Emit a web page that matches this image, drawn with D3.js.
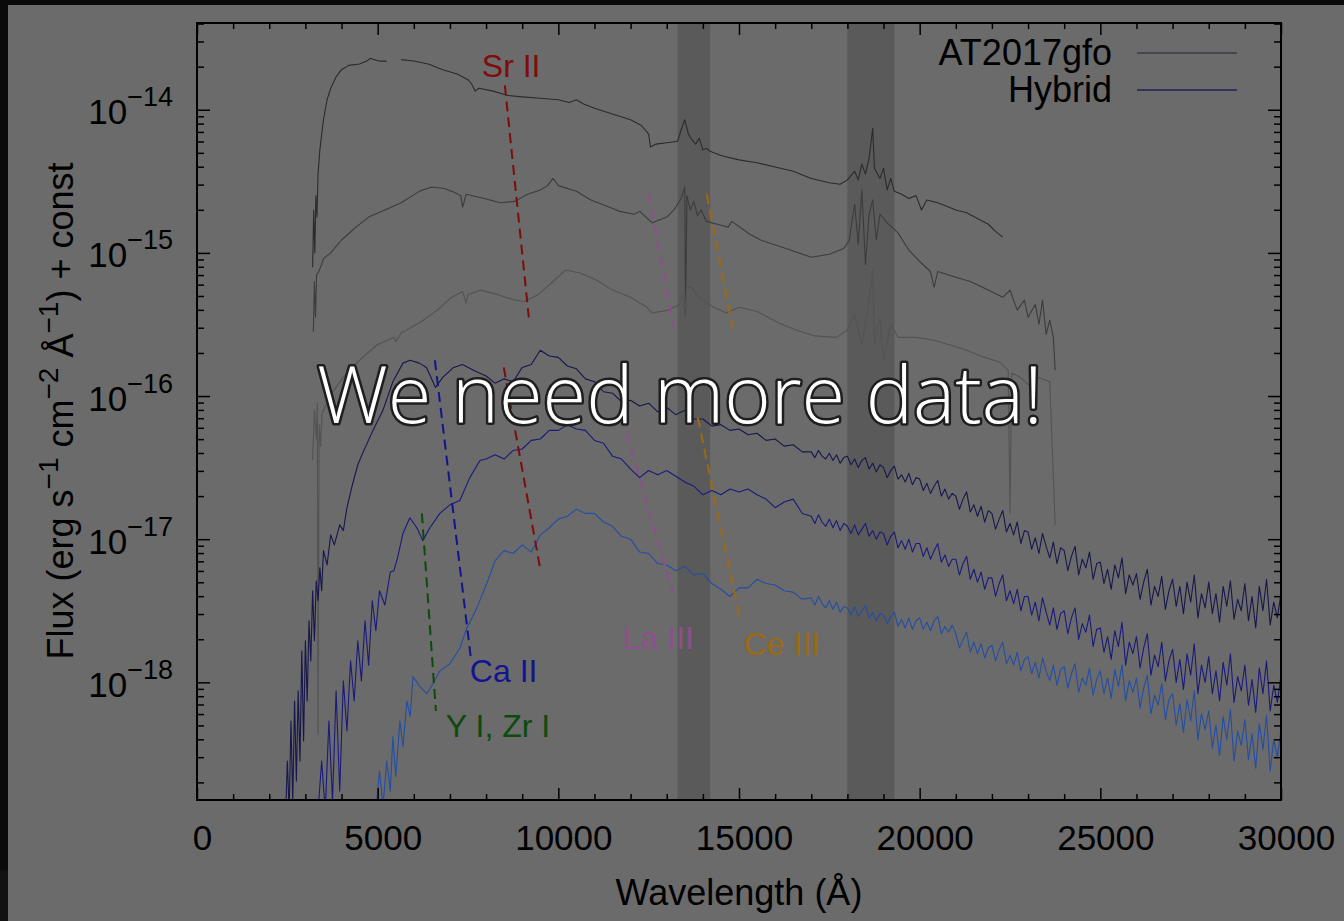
<!DOCTYPE html>
<html>
<head>
<meta charset="utf-8">
<script src="https://cdn.jsdelivr.net/npm/d3@7"></script>
<style>
body { margin: 0; background: #0a0a0a; }
svg { display: block; }
</style>
</head>
<body>
<svg id="chart"></svg>
<script>
// wavelength (A), log10 flux
var obsSpec1 = [[3200,-15.10],[3230,-14.70],[3260,-15.00],[3290,-14.60],[3320,-14.75],[3350,-14.45],[3400,-14.28],[3500,-14.07],[3600,-13.93],[3700,-13.85],[3850,-13.77],[4000,-13.72],[4200,-13.69],[4500,-13.68],[4700,-13.66],[4800,-13.64],[4900,-13.65],[5050,-13.66],[5250,-13.66],[5300,null],[5650,-13.65],[6000,-13.66],[6400,-13.68],[6800,-13.72],[7200,-13.75],[7500,-13.79],[7600,-13.82],[7700,-13.87],[7800,-13.85],[8200,-13.87],[8600,-13.90],[9000,-13.91],[9500,-13.92],[10000,-13.93],[10300,-13.95],[10500,-13.93],[10700,-13.96],[11000,-13.99],[11500,-14.03],[12000,-14.07],[12300,-14.11],[12500,-14.17],[12550,-14.26],[12700,-14.24],[13000,-14.23],[13300,-14.22],[13400,-14.14],[13500,-14.07],[13600,-14.17],[13700,-14.21],[13800,-14.24],[13900,-14.20],[14000,-14.28],[14100,-14.27],[14200,-14.29],[14500,-14.32],[15000,-14.35],[15500,-14.37],[16000,-14.40],[16500,-14.43],[17000,-14.48],[17500,-14.51],[17800,-14.52],[18000,-14.49],[18200,-14.43],[18300,-14.49],[18400,-14.38],[18500,-14.45],[18600,-14.34],[18700,-14.13],[18750,-14.41],[18900,-14.48],[19000,-14.41],[19100,-14.56],[19200,-14.48],[19300,-14.57],[19500,-14.59],[19700,-14.62],[19900,-14.60],[20050,-14.70],[20200,-14.63],[20500,-14.65],[20800,-14.68],[21000,-14.70],[21300,-14.72],[21600,-14.76],[21900,-14.80],[22100,-14.85],[22300,-14.89]];

var obsSpec2 = [[3220,-15.55],[3250,-15.20],[3280,-15.45],[3310,-15.15],[3350,-15.14],[3450,-15.08],[3500,-15.04],[3700,-15.00],[4000,-14.91],[4400,-14.82],[4750,-14.75],[5200,-14.70],[5650,-14.65],[6150,-14.57],[6500,-14.54],[6850,-14.55],[7150,-14.58],[7300,-14.60],[7350,-14.68],[7450,-14.59],[7950,-14.62],[8400,-14.65],[8800,-14.64],[9150,-14.59],[9500,-14.56],[9700,-14.53],[9850,-14.48],[10000,-14.53],[10500,-14.57],[10900,-14.63],[11400,-14.68],[11700,-14.71],[12100,-14.73],[12250,-14.71],[12600,-14.79],[13000,-14.75],[13200,-14.70],[13400,-14.62],[13500,-14.54],[13520,-15.43],[13560,-14.60],[13650,-14.70],[13750,-14.64],[13850,-14.74],[13950,-14.70],[14100,-14.78],[14400,-14.80],[14700,-14.82],[14800,-14.78],[15300,-14.87],[15600,-14.91],[16300,-14.97],[17000,-15.03],[17500,-15.01],[17900,-14.97],[18050,-14.91],[18200,-14.66],[18300,-14.94],[18400,-14.56],[18500,-15.08],[18600,-14.73],[18700,-14.63],[18800,-14.91],[18900,-14.73],[19100,-14.79],[19400,-14.86],[19700,-14.98],[20000,-15.06],[20300,-15.13],[20400,-15.24],[20500,-15.13],[21000,-15.17],[21400,-15.20],[21900,-15.26],[22300,-15.31],[22500,-15.26],[22700,-15.40],[22900,-15.33],[23000,-15.45],[23200,-15.36],[23300,-15.50],[23400,-15.33],[23500,-15.57],[23600,-15.47],[23700,-15.59],[23750,-15.82]];

var obsSpec3 = [[3200,-16.45],[3250,-16.10],[3300,-16.30],[3330,-16.05],[3350,-18.36],[3380,-16.20],[3420,-16.35],[3460,-16.12],[3500,-16.10],[3700,-15.99],[3900,-15.92],[4200,-15.82],[4500,-15.75],[5000,-15.64],[5450,-15.59],[5500,-15.62],[5650,-15.56],[6150,-15.49],[6600,-15.41],[7050,-15.31],[7350,-15.27],[7450,-15.35],[7500,-15.29],[7850,-15.26],[8300,-15.29],[8800,-15.33],[9050,-15.34],[9450,-15.29],[9850,-15.20],[10200,-15.12],[10600,-15.14],[11050,-15.19],[11500,-15.26],[12000,-15.31],[12450,-15.38],[12600,-15.42],[13050,-15.40],[13350,-15.36],[13450,-15.29],[13500,-15.45],[13550,-15.24],[13700,-15.24],[13850,-15.30],[14000,-15.33],[14300,-15.38],[14650,-15.42],[15000,-15.38],[15500,-15.41],[16100,-15.49],[16600,-15.54],[17100,-15.58],[17700,-15.59],[18000,-15.54],[18200,-15.43],[18400,-15.64],[18600,-15.33],[18700,-15.12],[18750,-15.64],[18900,-15.45],[19000,-15.75],[19200,-15.50],[19400,-15.59],[19900,-15.59],[20400,-15.61],[20800,-15.64],[21300,-15.68],[21800,-15.73],[22200,-15.76],[22450,-15.82],[22500,-16.82],[22550,-15.84],[22800,-15.87],[23000,-15.92],[23300,-15.87],[23600,-15.90],[23750,-16.90]];

var hybridSpec1 = [[2450,-18.95],[2500,-18.55],[2550,-18.90],[2600,-18.27],[2650,-18.83],[2700,-18.13],[2750,-18.69],[2800,-18.06],[2850,-18.55],[2900,-17.78],[2950,-18.41],[3000,-17.71],[3050,-18.13],[3100,-17.57],[3150,-17.85],[3200,-17.36],[3250,-17.71],[3300,-17.29],[3350,-17.43],[3400,-17.20],[3450,-17.36],[3500,-17.08],[3600,-17.18],[3700,-16.97],[3800,-17.04],[3950,-16.90],[4050,-16.94],[4150,-16.78],[4300,-16.62],[4450,-16.48],[4600,-16.39],[4870,-16.24],[5145,-16.10],[5420,-15.90],[5700,-15.77],[5900,-15.75],[6150,-15.77],[6350,-15.80],[6600,-15.94],[6800,-15.87],[7100,-15.80],[7350,-15.78],[7650,-15.82],
  [8000,-15.86],[8250,-15.91],[8500,-15.88],[8750,-15.90],[9000,-15.80],[9250,-15.78],[9500,-15.68],[9750,-15.72],[10000,-15.73],[10250,-15.79],[10500,-15.81],[10750,-15.88],[11000,-15.90],[11250,-15.97],[11500,-15.98],[11750,-16.04],[12000,-16.03],[12250,-16.07],[12500,-16.05],[12750,-16.11],[13000,-16.08],[13250,-16.13],[13500,-16.10],[13750,-16.16],[14000,-16.16],[14250,-16.21],[14500,-16.20],[14750,-16.24],[15000,-16.23],[15250,-16.27],[15500,-16.26],[15750,-16.31],[16000,-16.30],[16250,-16.35],[16500,-16.34],[16750,-16.39],
  [17000,-16.39],[17100,-16.43],[17200,-16.38],[17300,-16.42],[17400,-16.44],[17500,-16.40],[17600,-16.45],[17700,-16.41],[17800,-16.47],[17900,-16.43],
  [18000,-16.42],[18100,-16.48],[18200,-16.44],[18300,-16.50],[18400,-16.45],[18500,-16.43],[18600,-16.51],[18700,-16.47],[18800,-16.53],[18900,-16.48],
  [19000,-16.50],[19100,-16.57],[19200,-16.52],[19300,-16.49],[19400,-16.58],[19500,-16.55],[19600,-16.60],[19700,-16.54],[19800,-16.62],[19900,-16.57],
  [20000,-16.58],[20100,-16.66],[20200,-16.61],[20300,-16.68],[20400,-16.63],[20500,-16.59],[20600,-16.70],[20700,-16.65],[20800,-16.72],[20900,-16.68],
  [21000,-16.70],[21100,-16.79],[21200,-16.72],[21300,-16.67],[21400,-16.81],[21500,-16.76],[21600,-16.84],[21700,-16.77],[21800,-16.88],[21900,-16.80],
  [22000,-16.82],[22100,-16.93],[22200,-16.86],[22300,-16.80],[22400,-16.95],[22500,-16.89],[22600,-16.97],[22700,-16.88],[22800,-17.03],[22900,-16.94],
  [23000,-16.95],[23100,-17.07],[23200,-16.99],[23300,-17.10],[23400,-16.96],[23500,-17.05],[23600,-17.13],[23700,-17.02],[23800,-17.17],[23900,-17.06],
  [24000,-17.08],[24100,-17.22],[24200,-17.12],[24300,-17.05],[24400,-17.25],[24500,-17.14],[24600,-17.20],[24700,-17.09],[24800,-17.28],[24900,-17.17],
  [25000,-17.16],[25100,-17.31],[25200,-17.21],[25300,-17.35],[25400,-17.18],[25500,-17.27],[25600,-17.13],[25700,-17.38],[25800,-17.25],[25900,-17.32],
  [26000,-17.24],[26100,-17.42],[26200,-17.30],[26300,-17.21],[26400,-17.46],[26500,-17.33],[26600,-17.40],[26700,-17.26],[26800,-17.49],[26900,-17.36],
  [27000,-17.28],[27100,-17.47],[27200,-17.33],[27300,-17.52],[27400,-17.30],[27500,-17.44],[27600,-17.25],[27700,-17.55],[27800,-17.38],[27900,-17.48],
  [28000,-17.30],[28100,-17.52],[28200,-17.38],[28300,-17.58],[28400,-17.33],[28500,-17.47],[28600,-17.29],[28700,-17.56],[28800,-17.42],[28900,-17.50],
  [29000,-17.31],[29100,-17.57],[29200,-17.40],[29300,-17.62],[29400,-17.33],[29500,-17.50],[29600,-17.28],[29700,-17.60],[29800,-17.44],[29900,-17.55],[30000,-17.38]];

var hybridSpec2 = [[3350,-18.90],[3450,-18.55],[3550,-18.90],[3650,-18.27],[3750,-18.83],[3850,-18.06],[3950,-18.76],[4050,-17.99],[4150,-18.34],[4250,-17.85],[4350,-18.13],[4450,-17.71],[4550,-17.99],[4650,-17.57],[4750,-17.88],[4850,-17.43],[4950,-17.64],[5050,-17.36],[5200,-17.46],[5350,-17.23],[5450,-17.22],[5550,-17.13],[5700,-16.96],[5890,-16.85],[6085,-16.92],[6250,-17.01],[6445,-16.92],[6720,-16.82],[7000,-16.76],[7275,-16.73],[7550,-16.57],[7830,-16.45],
  [8000,-16.44],[8250,-16.41],[8500,-16.44],[8750,-16.38],[9000,-16.37],[9250,-16.31],[9500,-16.30],[9750,-16.24],[10000,-16.24],[10250,-16.20],[10500,-16.23],[10750,-16.24],[11000,-16.31],[11250,-16.33],[11500,-16.42],[11750,-16.44],[12000,-16.51],[12250,-16.57],[12500,-16.52],[12750,-16.55],[13000,-16.52],[13250,-16.56],[13500,-16.60],[13750,-16.63],[14000,-16.69],[14250,-16.66],[14500,-16.69],[14750,-16.65],[15000,-16.67],[15250,-16.65],[15500,-16.69],[15750,-16.72],[16000,-16.78],[16250,-16.74],[16500,-16.72],[16750,-16.82],
  [17000,-16.84],[17100,-16.89],[17200,-16.83],[17300,-16.88],[17400,-16.91],[17500,-16.86],[17600,-16.92],[17700,-16.87],[17800,-16.94],[17900,-16.89],
  [18000,-16.91],[18100,-16.96],[18200,-16.90],[18300,-16.97],[18400,-16.93],[18500,-16.89],[18600,-16.98],[18700,-16.94],[18800,-17.00],[18900,-16.95],
  [19000,-16.96],[19100,-17.04],[19200,-16.98],[19300,-16.95],[19400,-17.06],[19500,-17.01],[19600,-17.07],[19700,-17.00],[19800,-17.09],[19900,-17.03],
  [20000,-17.03],[20100,-17.12],[20200,-17.06],[20300,-17.14],[20400,-17.08],[20500,-17.03],[20600,-17.16],[20700,-17.11],[20800,-17.19],[20900,-17.14],
  [21000,-17.14],[21100,-17.25],[21200,-17.17],[21300,-17.12],[21400,-17.28],[21500,-17.21],[21600,-17.30],[21700,-17.23],[21800,-17.35],[21900,-17.27],
  [22000,-17.27],[22100,-17.40],[22200,-17.31],[22300,-17.25],[22400,-17.43],[22500,-17.36],[22600,-17.45],[22700,-17.35],[22800,-17.50],[22900,-17.40],
  [23000,-17.40],[23100,-17.53],[23200,-17.44],[23300,-17.57],[23400,-17.41],[23500,-17.51],[23600,-17.60],[23700,-17.48],[23800,-17.63],[23900,-17.52],
  [24000,-17.50],[24100,-17.66],[24200,-17.55],[24300,-17.48],[24400,-17.70],[24500,-17.59],[24600,-17.65],[24700,-17.53],[24800,-17.75],[24900,-17.63],
  [25000,-17.62],[25100,-17.79],[25200,-17.68],[25300,-17.84],[25400,-17.64],[25500,-17.75],[25600,-17.58],[25700,-17.88],[25800,-17.72],[25900,-17.80],
  [26000,-17.68],[26100,-17.90],[26200,-17.76],[26300,-17.66],[26400,-17.95],[26500,-17.81],[26600,-17.89],[26700,-17.72],[26800,-17.99],[26900,-17.85],
  [27000,-17.77],[27100,-18.00],[27200,-17.84],[27300,-18.05],[27400,-17.80],[27500,-17.95],[27600,-17.73],[27700,-18.08],[27800,-17.88],[27900,-18.00],
  [28000,-17.82],[28100,-18.08],[28200,-17.92],[28300,-18.13],[28400,-17.86],[28500,-18.02],[28600,-17.80],[28700,-18.14],[28800,-17.96],[28900,-18.06],
  [29000,-17.88],[29100,-18.16],[29200,-17.98],[29300,-18.21],[29400,-17.90],[29500,-18.08],[29600,-17.85],[29700,-18.20],[29800,-18.02],[29900,-18.14],[30000,-17.95]];

var hybridSpec3 = [[4950,-18.90],[5050,-18.62],[5150,-18.86],[5250,-18.55],[5350,-18.76],[5420,-18.38],[5500,-18.66],[5615,-18.27],[5700,-18.45],[5810,-18.13],[5900,-18.24],[5975,-17.96],[6170,-18.03],[6360,-18.08],[6530,-18.01],[6720,-17.92],[7000,-17.87],[7275,-17.76],[7470,-17.62],[7745,-17.48],[8020,-17.31],
  [8250,-17.15],[8500,-17.08],[8750,-17.10],[9000,-17.04],[9250,-17.09],[9500,-16.97],[9750,-16.92],[10000,-16.86],[10250,-16.84],[10500,-16.79],[10750,-16.82],[11000,-16.82],[11250,-16.88],[11500,-16.91],[11750,-16.98],[12000,-17.00],[12250,-17.09],[12500,-17.10],[12750,-17.17],[13000,-17.18],[13250,-17.22],[13500,-17.19],[13750,-17.25],[14000,-17.24],[14250,-17.31],[14500,-17.35],[14750,-17.40],[15000,-17.34],[15250,-17.34],[15500,-17.28],[15750,-17.31],[16000,-17.32],[16250,-17.36],[16500,-17.37],[16750,-17.42],
  [17000,-17.41],[17100,-17.46],[17200,-17.40],[17300,-17.45],[17400,-17.48],[17500,-17.43],[17600,-17.49],[17700,-17.44],[17800,-17.51],[17900,-17.47],
  [18000,-17.48],[18100,-17.53],[18200,-17.47],[18300,-17.54],[18400,-17.50],[18500,-17.46],[18600,-17.55],[18700,-17.51],[18800,-17.57],[18900,-17.52],
  [19000,-17.53],[19100,-17.59],[19200,-17.54],[19300,-17.51],[19400,-17.61],[19500,-17.56],[19600,-17.62],[19700,-17.55],[19800,-17.63],[19900,-17.57],
  [20000,-17.55],[20100,-17.63],[20200,-17.58],[20300,-17.64],[20400,-17.57],[20500,-17.54],[20600,-17.66],[20700,-17.61],[20800,-17.65],[20900,-17.60],
  [21000,-17.66],[21100,-17.76],[21200,-17.70],[21300,-17.65],[21400,-17.79],[21500,-17.72],[21600,-17.80],[21700,-17.73],[21800,-17.83],[21900,-17.76],
  [22000,-17.74],[22100,-17.85],[22200,-17.77],[22300,-17.72],[22400,-17.87],[22500,-17.81],[22600,-17.88],[22700,-17.79],[22800,-17.92],[22900,-17.84],
  [23000,-17.82],[23100,-17.94],[23200,-17.86],[23300,-17.97],[23400,-17.83],[23500,-17.92],[23600,-17.99],[23700,-17.88],[23800,-18.02],[23900,-17.91],
  [24000,-17.89],[24100,-18.04],[24200,-17.94],[24300,-17.87],[24400,-18.07],[24500,-17.97],[24600,-18.02],[24700,-17.90],[24800,-18.09],[24900,-17.98],
  [25000,-17.92],[25100,-18.08],[25200,-17.97],[25300,-18.11],[25400,-17.91],[25500,-18.03],[25600,-17.88],[25700,-18.13],[25800,-17.99],[25900,-18.07],
  [26000,-17.97],[26100,-18.18],[26200,-18.04],[26300,-17.95],[26400,-18.22],[26500,-18.09],[26600,-18.16],[26700,-18.01],[26800,-18.26],[26900,-18.12],
  [27000,-18.08],[27100,-18.30],[27200,-18.15],[27300,-18.35],[27400,-18.12],[27500,-18.27],[27600,-18.06],[27700,-18.40],[27800,-18.22],[27900,-18.33],
  [28000,-18.20],[28100,-18.46],[28200,-18.30],[28300,-18.51],[28400,-18.24],[28500,-18.40],[28600,-18.19],[28700,-18.55],[28800,-18.34],[28900,-18.44],
  [29000,-18.26],[29100,-18.54],[29200,-18.36],[29300,-18.60],[29400,-18.29],[29500,-18.47],[29600,-18.23],[29700,-18.62],[29800,-18.40],[29900,-18.52],[30000,-18.33]];

// telluric bands (A)
var bands = [[13300, 14200], [18000, 19300]];

// identified features: name, w1, logF1, w2, logF2
var featureSegments = [
  ["Sr II", 8520, -13.83, 9183, -15.45],
  ["Sr II", 8490, -15.80, 9515, -17.23],
  ["Ca II", 6583, -15.75, 7579, -17.83],
  ["Y I, Zr I", 6224, -16.82, 6611, -18.20],
  ["La III", 12502, -14.59, 13194, -15.52],
  ["La III", 11756, -16.15, 13166, -17.37],
  ["Ce III", 14107, -14.59, 14826, -15.52],
  ["Ce III", 13858, -16.15, 15020, -17.55]
];
// label: name, w, logF
var featureLabels = [
  ["Sr II", 7883, -13.77],
  ["Ca II", 7551, -18.00],
  ["Y I, Zr I", 6887, -18.38],
  ["La III", 11783, -17.77],
  ["Ce III", 15130, -17.81]
];

var xMajor = [0, 5000, 10000, 15000, 20000, 25000, 30000];
var yMajorExp = [-14, -15, -16, -17, -18];
var legendNames = ["AT2017gfo", "Hybrid"];

var featureColor = {"Sr II": "#7e0c0c", "Ca II": "#14148e", "Y I, Zr I": "#0e4a0e", "La III": "#8c508c", "Ce III": "#9c6a12"};

var width = 1344, height = 921;
var svg = d3.select("#chart").attr("width", width).attr("height", height);

// dimmed slide background
svg.append("rect").attr("width", width).attr("height", height).attr("fill", "#0a0a0a");
svg.append("rect").attr("x", 0).attr("y", 870).attr("width", 8).attr("height", 51).attr("fill", "#121212");
svg.append("rect").attr("x", 8).attr("y", 5).attr("width", width - 8).attr("height", height - 5).attr("fill", "#6b6b6b");

var x = d3.scaleLinear().domain([0, 30000]).range([197, 1281]);
var y = d3.scaleLog().domain([Math.pow(10, -18.822), Math.pow(10, -13.394)]).range([800, 23]);

svg.append("clipPath").attr("id", "plotclip")
  .append("rect").attr("x", 197).attr("y", 23).attr("width", 1084).attr("height", 777);

var plot = svg.append("g").attr("clip-path", "url(#plotclip)");

plot.selectAll("rect.band").data(bands).enter().append("rect")
  .attr("class", "band")
  .attr("x", function(d) { return x(d[0]); })
  .attr("width", function(d) { return x(d[1]) - x(d[0]); })
  .attr("y", 23).attr("height", 777)
  .attr("fill", "#5a5a5a");

var line = d3.line()
  .defined(function(d) { return d[1] != null; })
  .x(function(d) { return x(d[0]); })
  .y(function(d) { return y(Math.pow(10, d[1])); });

var spectra = [
  {data: obsSpec1, color: "#2b2b2b"},
  {data: obsSpec2, color: "#3c3c3c"},
  {data: obsSpec3, color: "#535353"},
  {data: hybridSpec1, color: "#17174c"},
  {data: hybridSpec2, color: "#1a1a7c"},
  {data: hybridSpec3, color: "#234ea6"}
];

plot.selectAll("path.spec").data(spectra).enter().append("path")
  .attr("class", "spec")
  .attr("d", function(d) { return line(d.data); })
  .attr("fill", "none")
  .attr("stroke", function(d) { return d.color; })
  .attr("stroke-width", 1.1)
  .attr("stroke-linejoin", "round");

plot.selectAll("line.feat").data(featureSegments).enter().append("line")
  .attr("class", "feat")
  .attr("x1", function(d) { return x(d[1]); })
  .attr("y1", function(d) { return y(Math.pow(10, d[2])); })
  .attr("x2", function(d) { return x(d[3]); })
  .attr("y2", function(d) { return y(Math.pow(10, d[4])); })
  .attr("stroke", function(d) { return featureColor[d[0]]; })
  .attr("stroke-width", 2)
  .attr("stroke-dasharray", "10,6");

svg.selectAll("text.feat").data(featureLabels).enter().append("text")
  .attr("class", "feat")
  .attr("x", function(d) { return x(d[1]); })
  .attr("y", function(d) { return y(Math.pow(10, d[2])); })
  .attr("fill", function(d) { return featureColor[d[0]]; })
  .attr("font-family", "Liberation Sans, Arial, sans-serif")
  .attr("font-size", 32)
  .text(function(d) { return d[0]; });

// axes, ticks pointing inward
var font = "Liberation Sans, Arial, sans-serif";
var xMinor = d3.range(0, 30001, 1000).filter(function(v) { return v % 5000 != 0; });
var yMinor = [];
d3.range(-19, -13).forEach(function(e) {
  d3.range(2, 10).forEach(function(k) { yMinor.push(k * Math.pow(10, e)); });
});
yMinor = yMinor.filter(function(v) { return v > y.domain()[0] && v < y.domain()[1]; });
var yMajor = yMajorExp.map(function(e) { return Math.pow(10, e); });

function styleAxis(g) {
  g.select(".domain").remove();
  g.selectAll("line").attr("stroke", "#000").attr("stroke-width", 1.5);
}

svg.append("g").attr("transform", "translate(0,800)")
  .call(d3.axisBottom(x).tickValues(xMinor).tickSize(-6).tickFormat(""))
  .call(styleAxis);
svg.append("g").attr("transform", "translate(0,23)")
  .call(d3.axisTop(x).tickValues(xMinor).tickSize(-6).tickFormat(""))
  .call(styleAxis);
svg.append("g").attr("transform", "translate(0,23)")
  .call(d3.axisTop(x).tickValues(xMajor).tickSize(-12).tickFormat(""))
  .call(styleAxis);

var xAxis = svg.append("g").attr("transform", "translate(0,800)")
  .call(d3.axisBottom(x).tickValues(xMajor).tickSize(-12).tickPadding(25).tickFormat(d3.format("d")))
  .call(styleAxis);
xAxis.selectAll("text").attr("font-family", font).attr("font-size", 35).attr("fill", "#000").attr("dx", 5);

svg.append("g").attr("transform", "translate(197,0)")
  .call(d3.axisLeft(y).tickValues(yMinor).tickSize(-7).tickFormat(""))
  .call(styleAxis);
svg.append("g").attr("transform", "translate(1281,0)")
  .call(d3.axisRight(y).tickValues(yMinor).tickSize(-7).tickFormat(""))
  .call(styleAxis);
svg.append("g").attr("transform", "translate(1281,0)")
  .call(d3.axisRight(y).tickValues(yMajor).tickSize(-13).tickFormat(""))
  .call(styleAxis);
var yAxis = svg.append("g").attr("transform", "translate(197,0)")
  .call(d3.axisLeft(y).tickValues(yMajor).tickSize(-13).tickFormat(""))
  .call(styleAxis);

yAxis.selectAll(".tick").each(function(d) {
  var t = d3.select(this).append("text")
    .attr("x", -24).attr("y", 14)
    .attr("text-anchor", "end")
    .attr("font-family", font).attr("font-size", 35).attr("fill", "#000");
  t.append("tspan").text("10");
  t.append("tspan").attr("font-size", 27).attr("dy", -18)
    .text("\u2212" + Math.abs(Math.round(Math.log10(d))));
});

svg.append("rect").attr("x", 197).attr("y", 23).attr("width", 1084).attr("height", 777)
  .attr("fill", "none").attr("stroke", "#000").attr("stroke-width", 2);

// axis titles
svg.append("text")
  .attr("x", 739).attr("y", 905)
  .attr("text-anchor", "middle")
  .attr("font-family", font).attr("font-size", 36).attr("fill", "#000")
  .text("Wavelength (\u00c5)");

var yt = svg.append("text")
  .attr("transform", "translate(73,411) rotate(-90)")
  .attr("text-anchor", "middle")
  .attr("font-family", font).attr("font-size", 36).attr("fill", "#000");
yt.append("tspan").text("Flux (erg s");
yt.append("tspan").attr("font-size", 28).attr("dy", -15).text("\u22121");
yt.append("tspan").attr("dy", 15).text(" cm");
yt.append("tspan").attr("font-size", 28).attr("dy", -15).text("\u22122");
yt.append("tspan").attr("dy", 15).text(" \u00c5");
yt.append("tspan").attr("font-size", 28).attr("dy", -15).text("\u22121");
yt.append("tspan").attr("dy", 15).text(") + const");

// legend
var legendColors = ["#3a3a46", "#1e1e5c"];
var legend = svg.append("g");
legendNames.forEach(function(name, i) {
  legend.append("text")
    .attr("x", 1112).attr("y", 65 + i * 37)
    .attr("text-anchor", "end")
    .attr("font-family", font).attr("font-size", 36).attr("fill", "#000")
    .text(name);
  legend.append("line")
    .attr("x1", 1137).attr("x2", 1237)
    .attr("y1", 53 + i * 37).attr("y2", 53 + i * 37)
    .attr("stroke", legendColors[i]).attr("stroke-width", 1.3);
});

// slide overlay text
var msg = svg.append("text")
  .attr("x", 317).attr("y", 423)
  .attr("font-family", "Open Sans, sans-serif")
  .attr("font-weight", 300)
  .attr("font-size", 80)
  .attr("fill", "#fff")
  .attr("stroke", "#1e1e1e")
  .attr("stroke-width", 5)
  .attr("stroke-linejoin", "round")
  .attr("paint-order", "stroke")
  .text("We need more data!");
var len = msg.node().getComputedTextLength();
msg.attr("font-size", 80 * 726 / len);
</script>
</body>
</html>
